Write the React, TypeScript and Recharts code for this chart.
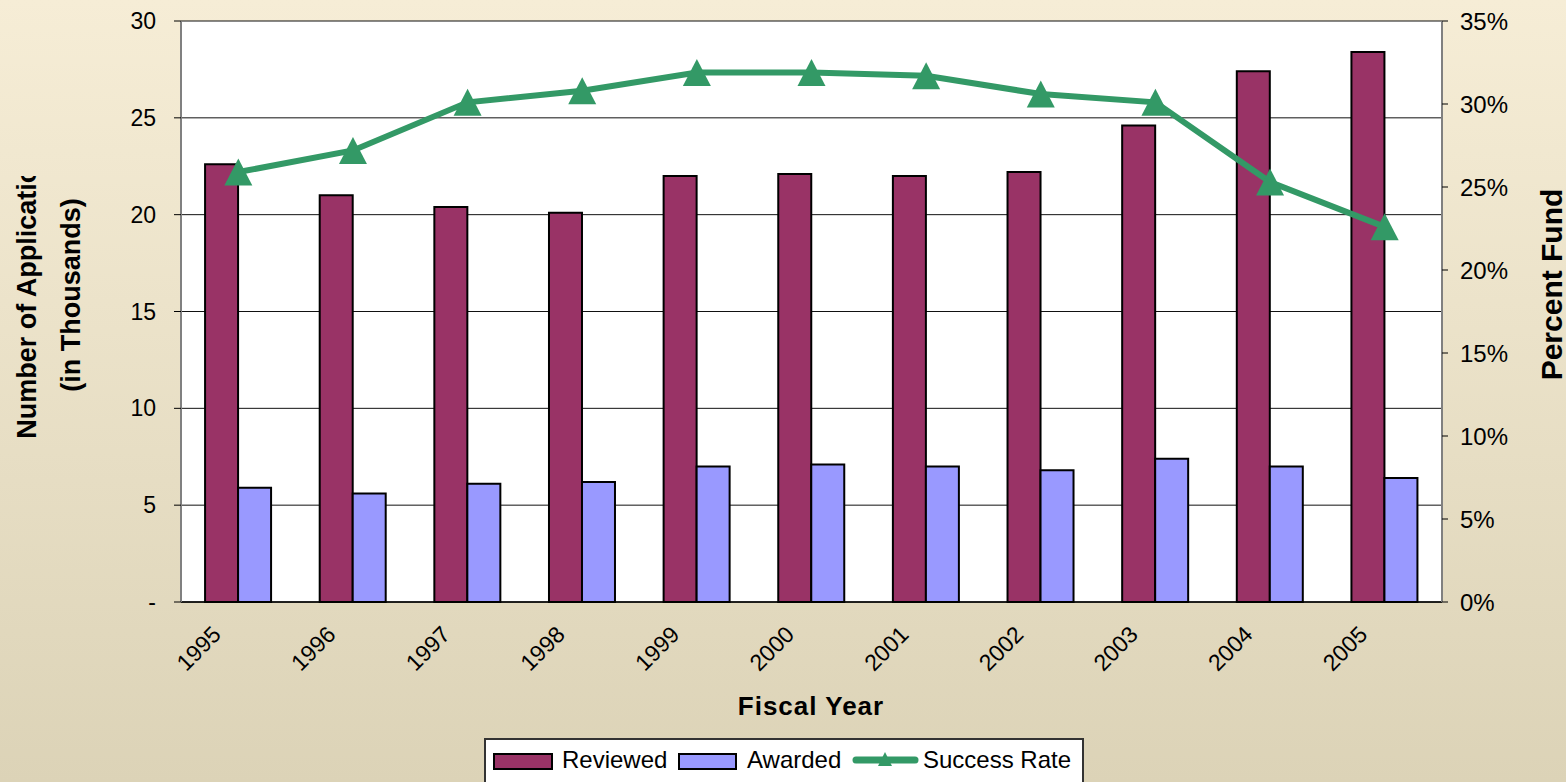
import React from "react"
import { ComposedChart, Bar, Line, XAxis, YAxis, CartesianGrid } from "recharts"

const years = ["1995", "1996", "1997", "1998", "1999", "2000", "2001", "2002", "2003", "2004", "2005"]
// thousands of applications
const reviewed = [22.6, 21.0, 20.4, 20.1, 22.0, 22.1, 22.0, 22.2, 24.6, 27.4, 28.4]
const awarded = [5.9, 5.6, 6.1, 6.2, 7.0, 7.1, 7.0, 6.8, 7.4, 7.0, 6.4]
// percent funded
const successRate = [25.9, 27.2, 30.1, 30.8, 31.9, 31.9, 31.7, 30.6, 30.1, 25.3, 22.6]

const leftTicks = [0, 5, 10, 15, 20, 25, 30]
const rightTicks = [0, 5, 10, 15, 20, 25, 30, 35]

const data = years.map((year, i) => ({
  year,
  reviewed: reviewed[i],
  awarded: awarded[i],
  rate: successRate[i],
}))

const FONT = "'Liberation Sans', Arial, sans-serif"
const RED = "#993366"
const BLUE = "#9999FF"
const GREEN = "#339966"

const YearTick = (props: any) => {
  const { x, y, payload } = props
  const ax = x - 16
  const ay = y + 34
  return (
    <text
      x={ax}
      y={ay}
      textAnchor="end"
      fontSize={23}
      fontFamily={FONT}
      fill="#000"
      transform={`rotate(-45 ${ax} ${ay})`}
    >
      {payload.value}
    </text>
  )
}

const Triangle = (props: any) => {
  const { cx, cy } = props
  if (cx == null || cy == null) return null
  return (
    <polygon
      points={`${cx},${cy - 13.5} ${cx - 14},${cy + 13.5} ${cx + 14},${cy + 13.5}`}
      fill={GREEN}
    />
  )
}

export default function App() {
  return (
    <div
      style={{
        position: "absolute",
        left: 0,
        top: 0,
        width: 1566,
        height: 782,
        overflow: "hidden",
        background: "linear-gradient(to bottom, #F6EDD6, #DCD3B7)",
        fontFamily: FONT,
      }}
    >
      <ComposedChart
        width={1566}
        height={782}
        data={data}
        margin={{ top: 21, right: 0, bottom: 0, left: 0 }}
        barGap={0}
        barCategoryGap="21%"
      >
        <CartesianGrid vertical={false} stroke="#111" fill="#fff" yAxisId="left" />
        <XAxis
          dataKey="year"
          height={180}
          axisLine={{ stroke: "#000", strokeWidth: 1.5 }}
          tickLine={false}
          tickSize={0}
          tickMargin={0}
          interval={0}
          tick={<YearTick />}
        />
        <YAxis
          yAxisId="left"
          width={181}
          domain={[0, 30]}
          ticks={leftTicks}
          interval={0}
          axisLine={{ stroke: "#808080", strokeWidth: 2 }}
          tickLine={{ stroke: "#000" }}
          tickSize={7}
          tickMargin={18}
          tickFormatter={(v) => (v === 0 ? "-" : `${v}`)}
          tick={{ fill: "#000", fontSize: 23, fontFamily: FONT }}
        />
        <YAxis
          yAxisId="right"
          orientation="right"
          width={124}
          domain={[0, 35]}
          ticks={rightTicks}
          interval={0}
          axisLine={{ stroke: "#808080", strokeWidth: 2 }}
          tickLine={{ stroke: "#000" }}
          tickSize={6}
          tickMargin={12}
          tickFormatter={(v) => `${v}%`}
          tick={{ fill: "#000", fontSize: 24, fontFamily: FONT }}
        />
        <Bar yAxisId="left" dataKey="reviewed" fill={RED} stroke="#000" strokeWidth={2} isAnimationActive={false} />
        <Bar yAxisId="left" dataKey="awarded" fill={BLUE} stroke="#000" strokeWidth={2} isAnimationActive={false} />
        <Line
          yAxisId="right"
          dataKey="rate"
          stroke={GREEN}
          strokeWidth={6}
          dot={<Triangle />}
          activeDot={false}
          isAnimationActive={false}
        />
      </ComposedChart>

      {/* axis titles */}
      <svg
        width={1566}
        height={782}
        style={{ position: "absolute", left: 0, top: 0, pointerEvents: "none" }}
      >
        <defs>
          <clipPath id="leftTitleClip">
            <rect x={0} y={176} width={60} height={400} />
          </clipPath>
          <clipPath id="rightTitleClip">
            <rect x={1520} y={189} width={46} height={400} />
          </clipPath>
        </defs>
        <g clipPath="url(#leftTitleClip)">
          <text
            x={36}
            y={287}
            transform="rotate(-90 36 287)"
            textAnchor="middle"
            fontSize={27}
            fontWeight="bold"
            fontFamily={FONT}
          >
            Number of Applications
          </text>
        </g>
        <text
          x={80}
          y={295}
          transform="rotate(-90 80 295)"
          textAnchor="middle"
          fontSize={27}
          fontWeight="bold"
          fontFamily={FONT}
        >
          (in Thousands)
        </text>
        <g clipPath="url(#rightTitleClip)">
          <text
            x={1562}
            y={267}
            transform="rotate(-90 1562 267)"
            textAnchor="middle"
            fontSize={30}
            fontWeight="bold"
            fontFamily={FONT}
          >
            Percent Funded
          </text>
        </g>
        <text x={811} y={715} textAnchor="middle" fontSize={26} fontWeight="bold" fontFamily={FONT} letterSpacing={1}>
          Fiscal Year
        </text>

        {/* legend */}
        <rect x={485} y={739} width={598} height={60} fill="#fff" stroke="#333" strokeWidth={2} />
        <rect x={494} y={754} width={58} height={15} fill={RED} stroke="#000" strokeWidth={2} />
        <text x={562} y={768} fontSize={24} fontFamily={FONT}>Reviewed</text>
        <rect x={679} y={754} width={57} height={15} fill={BLUE} stroke="#000" strokeWidth={2} />
        <text x={747} y={768} fontSize={24} fontFamily={FONT}>Awarded</text>
        <line x1={856} y1={760} x2={915} y2={760} stroke={GREEN} strokeWidth={7} strokeLinecap="round" />
        <polygon points="885,752 878,766 892,766" fill={GREEN} />
        <text x={923} y={768} fontSize={24} fontFamily={FONT}>Success Rate</text>
      </svg>
    </div>
  )
}
